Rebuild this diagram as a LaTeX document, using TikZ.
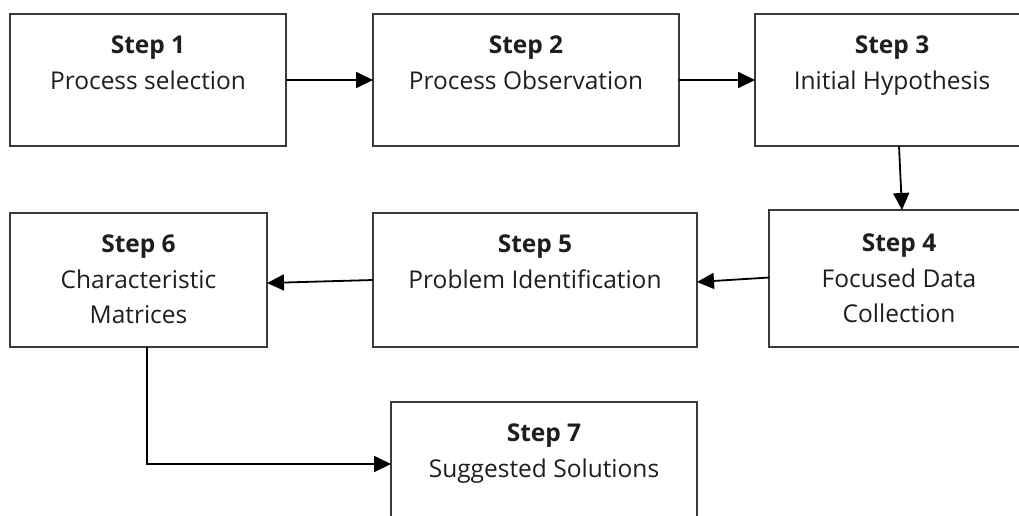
\documentclass[tikz,border=0pt]{standalone}
\usepackage{fontspec}
\setmainfont{Open Sans}
\usetikzlibrary{arrows.meta}
\definecolor{edge}{HTML}{3A3A3A}
\definecolor{ink}{HTML}{1E1E1E}
\begin{document}
\begin{tikzpicture}[x=1pt,y=-1pt,
  stepbox/.style={draw=edge, line width=1.8pt, inner sep=0pt, outer sep=0pt, anchor=north west},
  steptext/.style={anchor=north, inner sep=0pt, align=center, text=ink,
    font=\fontsize{24.5}{35.5}\selectfont},
  flow/.style={draw=black, line width=1.8pt, -{Triangle[length=17pt,width=16pt]}}]
  \useasboundingbox (0,0) rectangle (1019,515);
  \clip (0,0) rectangle (1019,515);
  % boxes
  \node[stepbox, minimum width=276pt, minimum height=132pt] (s1) at (10,14) {};
  \node[stepbox, minimum width=306pt, minimum height=132pt] (s2) at (373,14) {};
  \node[stepbox, minimum width=274pt, minimum height=132pt] (s3) at (755,14) {};
  \node[stepbox, minimum width=260pt, minimum height=137pt] (s4) at (769,210) {};
  \node[stepbox, minimum width=324pt, minimum height=134pt] (s5) at (373,213) {};
  \node[stepbox, minimum width=257pt, minimum height=134pt] (s6) at (10,213) {};
  \node[stepbox, minimum width=306pt, minimum height=124pt] (s7) at (391,402) {};
  % labels
  \node[steptext] (t1) at ([yshift=-22pt]s1.north) {\textbf{Step 1}\\Process selection};
  \node[steptext] (t2) at ([yshift=-22pt]s2.north) {\textbf{Step 2}\\Process Observation};
  \node[steptext] (t3) at ([yshift=-22pt]s3.north) {\textbf{Step 3}\\Initial Hypothesis};
  \node[steptext] (t4) at ([yshift=-24pt]s4.north) {\textbf{Step 4}\\Focused Data\\Collection};
  \node[steptext] (t5) at ([yshift=-22pt]s5.north) {\textbf{Step 5}\\Problem Identification};
  \node[steptext] (t6) at ([yshift=-22pt]s6.north) {\textbf{Step 6}\\Characteristic\\Matrices};
  \node[steptext] (t7) at ([yshift=-22pt]s7.north) {\textbf{Step 7}\\Suggested Solutions};
  % connectors
  \draw[flow] (s1.east) -- (s2.west);
  \draw[flow] (s2.east) -- (s3.west);
  \draw[flow] ([xshift=7pt]s3.south) -- ([xshift=3pt]s4.north);
  \draw[flow] ([yshift=1pt]s4.west) -- ([yshift=-2pt]s5.east);
  \draw[flow] (s5.west) -- ([yshift=-3pt]s6.east);
  \draw[flow] ([xshift=8.5pt]s6.south) |- (s7.west);
\end{tikzpicture}
\end{document}
